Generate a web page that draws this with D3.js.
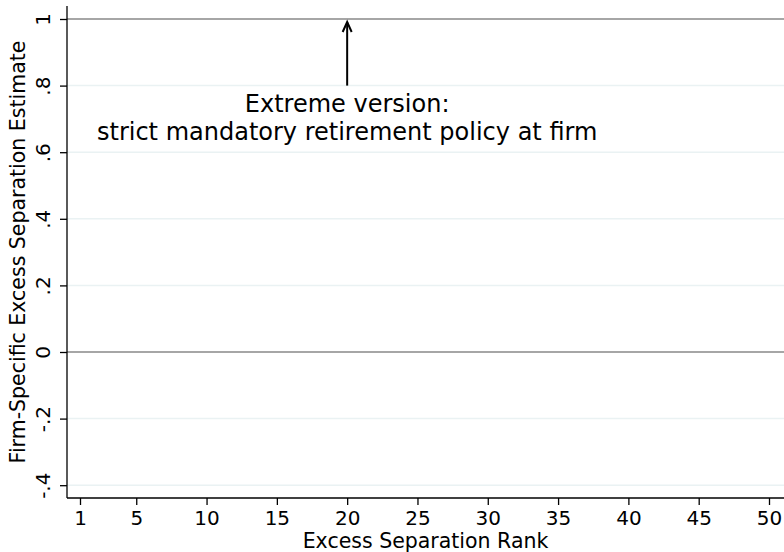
<!DOCTYPE html>
<html>
<head>
<meta charset="utf-8">
<script src="https://cdn.jsdelivr.net/npm/d3@7"></script>
<style>
  html, body { margin: 0; padding: 0; background: #fff; }
  svg { display: block; font-family: "DejaVu Sans", sans-serif; }
</style>
</head>
<body>
<svg id="chart" width="784" height="552"></svg>
<script>
// Axis ticks and labels
const xTicks = [1, 5, 10, 15, 20, 25, 30, 35, 40, 45, 50];
const yTicks = [-0.4, -0.2, 0, 0.2, 0.4, 0.6, 0.8, 1];
const yTickLabels = ["-.4", "-.2", "0", ".2", ".4", ".6", ".8", "1"];
const refLines = [0, 1];

// Annotation: arrow at rank 20 rising from .8 to 1, with a two-line caption
const arrowRank = [20];
const arrowFrom = [0.8];
const arrowTo = [1];
const noteLines = ["Extreme version:", "strict mandatory retirement policy at firm"];

const xTitle = "Excess Separation Rank";
const yTitle = "Firm-Specific Excess Separation Estimate";

const plot = { left: 67, right: 784, top: 6, bottom: 498 };

const svg = d3.select("#chart");

const x = d3.scaleLinear().domain([1, 50]).range([80, 769]);
const y = d3.scaleLinear().domain([0, 1]).range([352, 19]);

// Light grid lines
svg.append("g")
  .selectAll("line")
  .data(yTicks.filter(v => !refLines.includes(v)))
  .join("line")
  .attr("x1", plot.left).attr("x2", plot.right)
  .attr("y1", d => y(d)).attr("y2", d => y(d))
  .attr("stroke", "#eaf2f3").attr("stroke-width", 1.5);

// Reference lines at 0 and 1
svg.append("g")
  .selectAll("line")
  .data(refLines)
  .join("line")
  .attr("x1", plot.left).attr("x2", plot.right)
  .attr("y1", d => y(d)).attr("y2", d => y(d))
  .attr("stroke", "#a6a6a6").attr("stroke-width", 2);

// Y axis
const yAxis = d3.axisLeft(y)
  .tickValues(yTicks)
  .tickFormat((d, i) => yTickLabels[i])
  .tickSize(7)
  .tickSizeOuter(0);
const gy = svg.append("g").attr("transform", `translate(${plot.left},0)`).call(yAxis);
gy.select(".domain").remove();
gy.selectAll(".tick line").attr("stroke", "#000").attr("stroke-width", 1.3);
gy.selectAll(".tick text")
  .attr("x", null).attr("dy", null)
  .attr("transform", "translate(-17,0) rotate(-90)")
  .attr("text-anchor", "middle")
  .attr("font-size", 20)
  .attr("fill", "#000")
  .attr("font-family", "DejaVu Sans");

// X axis
const xAxis = d3.axisBottom(x)
  .tickValues(xTicks)
  .tickFormat(d3.format("d"))
  .tickSize(7)
  .tickSizeOuter(0);
const gx = svg.append("g").attr("transform", `translate(0,${plot.bottom})`).call(xAxis);
gx.select(".domain").remove();
gx.selectAll(".tick line").attr("stroke", "#000").attr("stroke-width", 1.3);
gx.selectAll(".tick text")
  .attr("y", 27).attr("dy", null)
  .attr("font-size", 20)
  .attr("fill", "#000")
  .attr("font-family", "DejaVu Sans");

// Axis lines
svg.append("line")
  .attr("x1", plot.left).attr("x2", plot.left)
  .attr("y1", plot.top).attr("y2", plot.bottom)
  .attr("stroke", "#000").attr("stroke-width", 1.3);
svg.append("line")
  .attr("x1", plot.left).attr("x2", plot.right)
  .attr("y1", plot.bottom).attr("y2", plot.bottom)
  .attr("stroke", "#000").attr("stroke-width", 1.3);

// Axis titles
svg.append("text")
  .attr("transform", `translate(25,${(plot.top + plot.bottom) / 2}) rotate(-90)`)
  .attr("text-anchor", "middle")
  .attr("font-size", 20.5)
  .attr("fill", "#000")
  .text(yTitle);
svg.append("text")
  .attr("x", (plot.left + plot.right) / 2)
  .attr("y", 548)
  .attr("text-anchor", "middle")
  .attr("font-size", 20.5)
  .attr("fill", "#000")
  .text(xTitle);

// Arrow
const ax = x(arrowRank[0]);
const tipY = y(arrowTo[0]) + 3;
svg.append("line")
  .attr("x1", ax).attr("x2", ax)
  .attr("y1", y(arrowFrom[0])).attr("y2", tipY)
  .attr("stroke", "#000").attr("stroke-width", 2);
svg.append("path")
  .attr("d", `M${ax - 4.5},${tipY + 10} L${ax},${tipY} L${ax + 4.5},${tipY + 10}`)
  .attr("fill", "none")
  .attr("stroke", "#000").attr("stroke-width", 2);

// Caption
svg.append("g")
  .selectAll("text")
  .data(noteLines)
  .join("text")
  .attr("x", ax)
  .attr("y", (d, i) => 112 + i * 28)
  .attr("text-anchor", "middle")
  .attr("font-size", 24)
  .attr("fill", "#000")
  .text(d => d);
</script>
</body>
</html>
